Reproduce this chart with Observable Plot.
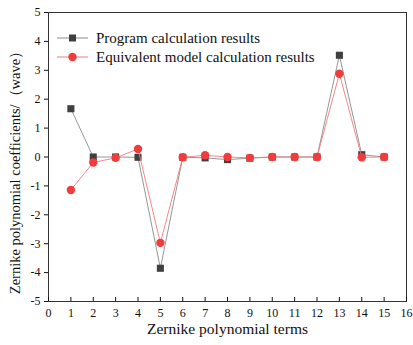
<!DOCTYPE html>
<html><head><meta charset="utf-8">
<script src="https://cdn.jsdelivr.net/npm/d3@7"></script>
<script src="https://cdn.jsdelivr.net/npm/@observablehq/plot@0.6"></script>
<style>body{margin:0;background:#fff}</style>
</head><body><div id="chart"></div>
<script>
const terms = [1,2,3,4,5,6,7,8,9,10,11,12,13,14,15];
const programValues = [1.67, 0.00, 0.00, -0.01, -3.85, -0.01, -0.03, -0.09, -0.04, 0.00, 0.00, 0.00, 3.52, 0.08, 0.00];
const equivalentValues = [-1.14, -0.19, -0.03, 0.28, -2.97, -0.01, 0.06, 0.00, -0.03, 0.00, 0.00, 0.00, 2.88, -0.01, 0.00];
const seriesNames = ["Program calculation results", "Equivalent model calculation results"];
const xTicks = [0,1,2,3,4,5,6,7,8,9,10,11,12,13,14,15,16];
const yTicks = [-5,-4,-3,-2,-1,0,1,2,3,4,5];
const xLabel = "Zernike polynomial terms";
const yLabel = "Zernike polynomial coefficients/（wave）";

const program = terms.map((t, i) => ({term: t, value: programValues[i]}));
const equivalent = terms.map((t, i) => ({term: t, value: equivalentValues[i]}));

const styles = [
  {line: "#8a8a8a", fill: "#404040", symbol: "square"},
  {line: "#f07c7c", fill: "#f23c3c", symbol: "circle"}
];

function legend(index, scales, values, dims) {
  const g = d3.create("svg:g").attr("font-size", 15).attr("fill", "#111").attr("text-anchor", "start");
  const x0 = dims.marginLeft, y0 = dims.marginTop;
  seriesNames.forEach((name, i) => {
    const y = y0 + 26 + i * 19;
    const s = styles[i];
    g.append("line").attr("x1", x0 + 9).attr("x2", x0 + 40).attr("y1", y).attr("y2", y)
      .attr("stroke", s.line).attr("stroke-width", 1);
    if (s.symbol === "square") {
      g.append("rect").attr("x", x0 + 21).attr("y", y - 3.5).attr("width", 7).attr("height", 7).attr("fill", s.fill);
    } else {
      g.append("circle").attr("cx", x0 + 24.5).attr("cy", y).attr("r", 4.2).attr("fill", s.fill);
    }
    g.append("text").attr("x", x0 + 48).attr("y", y).attr("dy", "0.32em").attr("text-anchor", "start").text(name);
  });
  return g.node();
}

const chart = Plot.plot({
  width: 413, height: 345,
  marginLeft: 48, marginRight: 7, marginTop: 12, marginBottom: 44,
  style: {fontFamily: "'Liberation Serif', 'Times New Roman', serif", fontSize: "12px", color: "#111", background: "#fff"},
  x: {domain: [0, 16]},
  y: {domain: [-5, 5]},
  marks: [
    Plot.frame({stroke: "#333", strokeWidth: 1}),
    Plot.axisX({ticks: xTicks, tickSize: -4, tickPadding: 11, tickFormat: d => String(d), label: null}),
    Plot.axisY({ticks: yTicks, tickSize: 4, tickPadding: 4, tickFormat: d => String(d), label: null}),
    Plot.line(program, {x: "term", y: "value", stroke: styles[0].line, strokeWidth: 0.9}),
    Plot.dot(program, {x: "term", y: "value", symbol: "square", r: 4, fill: styles[0].fill}),
    Plot.line(equivalent, {x: "term", y: "value", stroke: styles[1].line, strokeWidth: 0.9}),
    Plot.dot(equivalent, {x: "term", y: "value", symbol: "circle", r: 4.2, fill: styles[1].fill}),
    Plot.text([yLabel], {frameAnchor: "left", textAnchor: "middle", rotate: -90, dx: -33, dy: 12, fontSize: 14.5, text: d => d}),
    Plot.text([xLabel], {frameAnchor: "bottom", textAnchor: "middle", dy: 32, fontSize: 15.5, text: d => d}),
    legend
  ]
});
document.getElementById("chart").append(chart);
</script>
</body></html>
